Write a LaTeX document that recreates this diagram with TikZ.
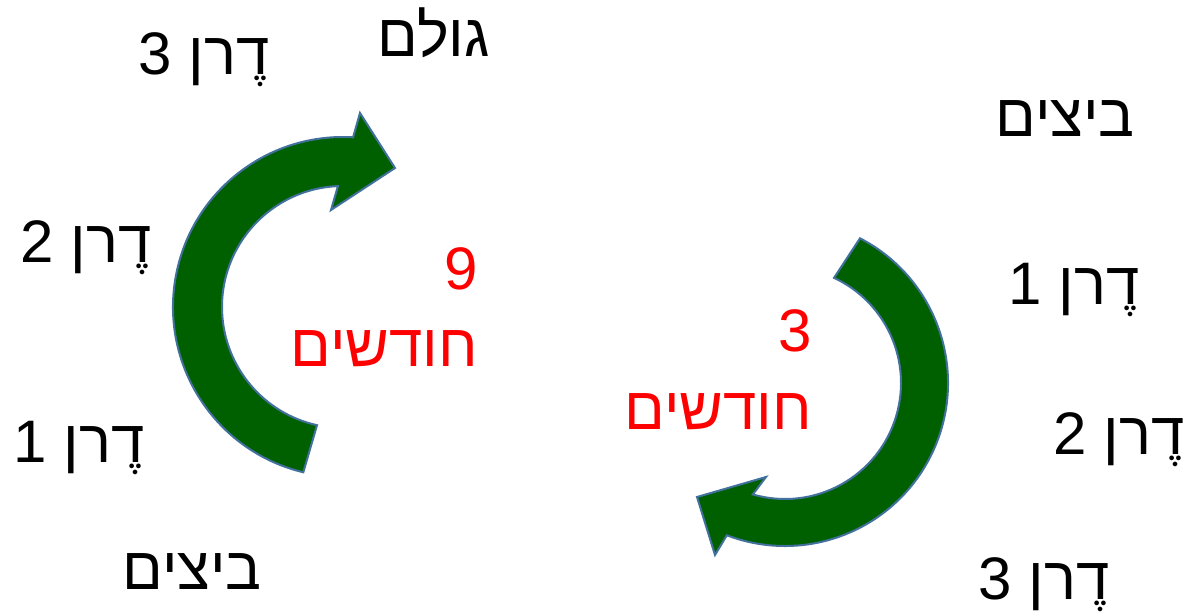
\documentclass[tikz,border=0pt]{standalone}
\usepackage{fontspec}
\setmainfont{Liberation Sans}
\newfontfamily\heb[Script=Hebrew]{Liberation Sans}
\TeXXeTstate=1
\definecolor{arrowgreen}{RGB}{0,96,0}
\definecolor{arrowedge}{RGB}{65,113,156}
\begin{document}
\begin{tikzpicture}[x=1pt,y=1pt,
  stagelabel/.style={inner sep=0pt, anchor=base east, font=\heb\fontsize{60}{66}\selectfont},
  months/.style={stagelabel, text=red},
  cyclearrow/.style={fill=arrowgreen, draw=arrowedge, line width=2pt, line join=miter}]
\path[use as bounding box] (0,0) rectangle (1192,615);

% left cycle: clockwise arrow around (343,308)
\draw[cyclearrow]
  ([shift={(343,308)}]256.5:170pt) arc[start angle=256.5, end angle=86.6, radius=170pt]
  -- (360,502) -- (395,447) -- (331,405)
  -- ([shift={(343,308)}]92.4:121pt) arc[start angle=92.4, end angle=257.6, radius=121pt]
  -- cycle;

% right cycle: clockwise arrow around (785,232)
\draw[cyclearrow]
  ([shift={(785,232)}]62.6:163pt) arc[start angle=62.6, end angle=-110.9, radius=163pt]
  -- (715,60) -- (697,118) -- (766,138)
  -- ([shift={(785,232)}]-106.1:116pt) arc[start angle=-106.1, end angle=65, radius=116pt]
  -- cycle;

% left column of stages
\node[stagelabel] (lgolem) at (490,558) {\beginR גולם\endR};
\node[stagelabel] (ld3) at (270,540) {\beginR דֶרן 3\endR};
\node[stagelabel] (ld2) at (152,352) {\beginR דֶרן 2\endR};
\node[stagelabel] (ld1) at (145,152) {\beginR דֶרן 1\endR};
\node[stagelabel] (leggs) at (262,25) {\beginR ביצים\endR};
\node[months] (lnum) at (478,325) {9};
\node[months] (lmonths) at (478,248) {\beginR חודשים\endR};

% right column of stages
\node[stagelabel] (reggs) at (1135,478) {\beginR ביצים\endR};
\node[stagelabel] (rd1) at (1140,310) {\beginR דֶרן 1\endR};
\node[stagelabel] (rd2) at (1185,160) {\beginR דֶרן 2\endR};
\node[stagelabel] (rd3) at (1110,15) {\beginR דֶרן 3\endR};
\node[months] (rnum) at (812,263) {3};
\node[months] (rmonths) at (812,185) {\beginR חודשים\endR};
\end{tikzpicture}
\end{document}
